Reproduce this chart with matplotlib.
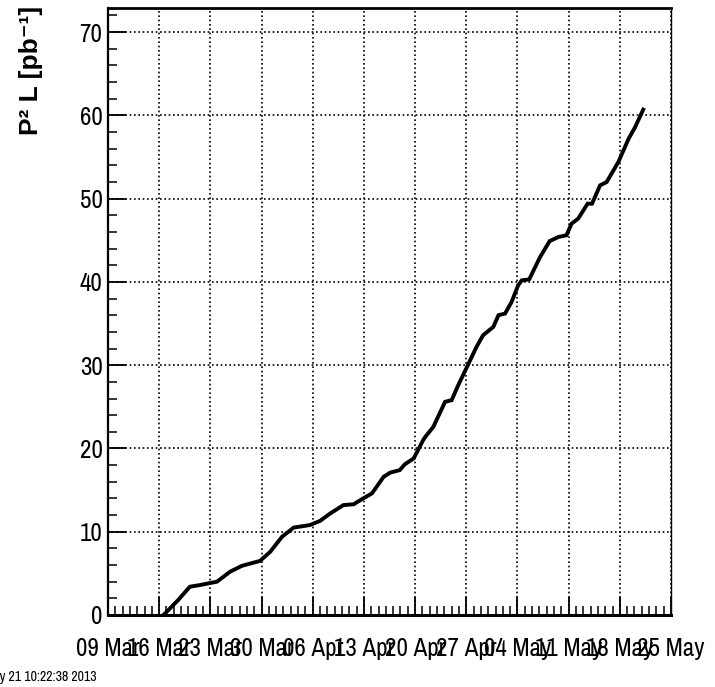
import matplotlib
matplotlib.use("Agg")
import matplotlib.pyplot as plt
import matplotlib.dates as mdates
import numpy as np

# === DATOS ===
start_date = np.datetime64("2013-03-09T00:00")
end_date = np.datetime64("2013-05-25T00:00")

# dias desde el 09 Mar y luminosidad integrada (pb^-1)
days = [7.6, 9.6, 11.2, 12.6, 14.9, 16.7, 18.3, 20.8, 22.2, 23.8, 25.4, 27.6,
        29.0, 30.4, 32.2, 33.6, 34.9, 36.1, 37.7, 38.6, 39.9, 40.6, 41.8, 42.4,
        43.1, 43.4, 44.5, 46.1, 47.0, 47.9, 49.1, 50.4, 51.3, 52.7, 53.4, 54.3,
        55.2, 56.1, 56.6, 57.6, 59.1, 60.4, 61.6, 62.7, 63.4, 64.3, 65.6, 66.2,
        67.3, 68.2, 69.8, 71.2, 72.1, 73.2]
lumi = [0.0, 1.8, 3.4, 3.6, 4.0, 5.2, 5.9, 6.5, 7.6, 9.4, 10.5, 10.8,
        11.3, 12.2, 13.2, 13.3, 14.0, 14.6, 16.6, 17.1, 17.4, 18.1, 18.8, 19.8,
        21.0, 21.4, 22.6, 25.6, 25.8, 27.6, 29.8, 32.2, 33.6, 34.6, 36.0, 36.2,
        37.6, 39.6, 40.2, 40.3, 43.0, 44.9, 45.4, 45.6, 47.0, 47.6, 49.4, 49.4,
        51.6, 52.0, 54.4, 57.2, 58.6, 60.7]

y_label = "P² L [pb⁻¹]"
timestamp = "Tue May 21 10:22:38 2013"

font_narrow = ["Archivo Narrow", "Liberation Sans", "DejaVu Sans"]
font_bold = ["Liberation Sans", "DejaVu Sans"]

# === FIGURA ===
W, H = 715, 687
fig = plt.figure(figsize=(W / 100, H / 100), dpi=100)
fig.patch.set_facecolor("white")
ax = fig.add_axes([108 / W, 1 - 615 / H, (671 - 108) / W, (615 - 8) / H])

t = start_date + (np.array(days) * 24 * 60).astype("timedelta64[m]")
ax.plot(t.astype(object), lumi, color="black", lw=2.8,
        solid_joinstyle="miter", zorder=5)

ax.set_xlim(start_date.astype(object), end_date.astype(object))
ax.set_ylim(0, 72.9)

week_ticks = np.arange(start_date, end_date + np.timedelta64(1, "D"),
                       np.timedelta64(7, "D"))
ax.set_xticks([d.astype(object) for d in week_ticks])
ax.xaxis.set_major_formatter(mdates.DateFormatter("%d %b"))
ax.xaxis.set_minor_locator(mdates.DayLocator())
ax.set_yticks(np.arange(0, 71, 10))
ax.set_yticks(np.arange(0, 73, 2), minor=True)

ax.tick_params(which="both", direction="in", top=False, right=False, color="black")
ax.tick_params(which="major", length=13, width=1.3)
ax.tick_params(which="minor", length=6.5, width=1.1)
ax.tick_params(axis="x", which="major", pad=16)
ax.tick_params(axis="y", which="major", pad=4)

for lab in ax.get_xticklabels() + ax.get_yticklabels():
    lab.set_fontfamily(font_narrow)
    lab.set_fontsize(18)

ax.grid(True, which="major", color="black", linestyle=(0, (1, 1.6)), lw=1.2)

ax.spines["bottom"].set_linewidth(2.2)
ax.spines["left"].set_linewidth(1.6)
ax.spines["top"].set_linewidth(2.0)
ax.spines["right"].set_linewidth(1.0)

fig.text(31 / W, 1 - 6 / H, y_label, rotation=90, ha="center", va="top",
         fontsize=19, fontweight="bold", family=font_bold)
fig.text(97 / W, 1 - 677 / H, timestamp, ha="right", va="center",
         fontsize=10, fontweight="bold", family=font_narrow)

fig.savefig("out.png", dpi=100)
